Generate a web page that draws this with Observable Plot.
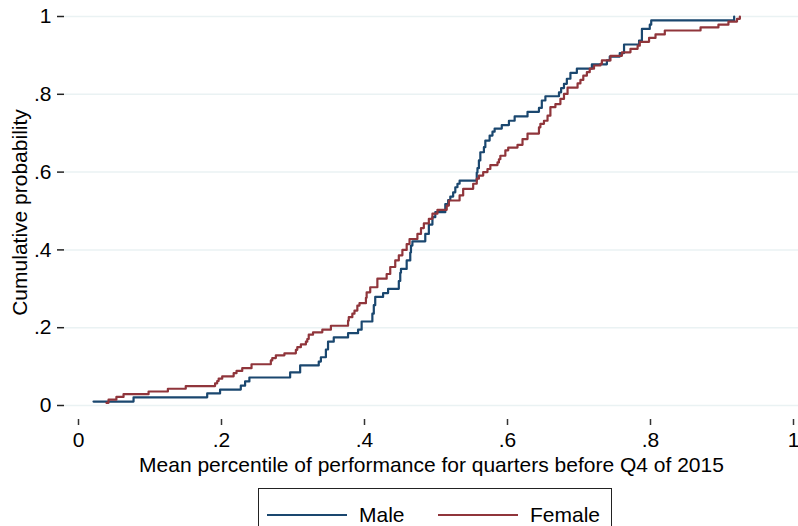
<!DOCTYPE html>
<html>
<head>
<meta charset="utf-8">
<script src="https://cdn.jsdelivr.net/npm/d3@7"></script>
<script src="https://cdn.jsdelivr.net/npm/@observablehq/plot@0.6"></script>
<style>
  html, body { margin: 0; padding: 0; background: #fff; }
  body { width: 798px; height: 526px; overflow: hidden; font-family: "Liberation Sans", Arial, Helvetica, sans-serif; }
  #legend { position: relative; margin-left: 258px; width: 354px; height: 50px; border: 1px solid #222; box-sizing: border-box; font-size: 21px; color: #000; }
  .item { position: absolute; top: 14px; display: flex; align-items: center; }
  .sw { display: inline-block; width: 80px; height: 0; border-top: 2px solid; margin-right: 12px; }
</style>
</head>
<body>
<div id="chart"></div>
<div id="legend"></div>
<script>
// Series names and colours
const seriesNames = ["Male", "Female"];
const seriesColors = ["#1a476f", "#90353b"];

// Male empirical CDF step points
const maleX = [0.021,0.077,0.180,0.198,0.227,0.233,0.239,0.296,0.310,0.336,0.339,0.346,0.349,0.357,0.377,0.391,0.396,0.411,0.413,0.415,0.426,0.433,0.448,0.450,0.451,0.459,0.464,0.465,0.467,0.485,0.490,0.495,0.499,0.513,0.517,0.520,0.524,0.527,0.530,0.533,0.557,0.558,0.560,0.562,0.567,0.569,0.575,0.579,0.582,0.592,0.602,0.610,0.628,0.644,0.648,0.653,0.672,0.675,0.679,0.683,0.688,0.697,0.718,0.739,0.743,0.757,0.763,0.784,0.788,0.799,0.801,0.917];
const maleY = [0.010,0.021,0.031,0.041,0.051,0.062,0.072,0.085,0.103,0.113,0.124,0.144,0.164,0.175,0.186,0.195,0.216,0.236,0.258,0.279,0.289,0.300,0.320,0.341,0.351,0.373,0.393,0.411,0.422,0.441,0.465,0.484,0.497,0.518,0.528,0.537,0.548,0.561,0.570,0.578,0.599,0.610,0.630,0.651,0.664,0.681,0.694,0.704,0.712,0.721,0.732,0.743,0.755,0.765,0.784,0.795,0.805,0.816,0.827,0.840,0.855,0.866,0.877,0.887,0.897,0.906,0.928,0.938,0.968,0.979,0.990,1.000];

// Female empirical CDF step points
const femaleX = [0.039,0.042,0.053,0.063,0.098,0.125,0.150,0.191,0.194,0.196,0.201,0.217,0.221,0.229,0.242,0.269,0.271,0.276,0.288,0.304,0.306,0.311,0.318,0.320,0.322,0.328,0.341,0.353,0.377,0.378,0.383,0.386,0.390,0.393,0.402,0.403,0.408,0.418,0.431,0.436,0.443,0.448,0.453,0.459,0.463,0.474,0.479,0.483,0.490,0.495,0.502,0.515,0.518,0.533,0.538,0.552,0.557,0.560,0.566,0.572,0.576,0.586,0.588,0.590,0.597,0.601,0.614,0.621,0.628,0.644,0.646,0.651,0.656,0.660,0.667,0.674,0.679,0.684,0.698,0.702,0.706,0.711,0.715,0.721,0.730,0.732,0.744,0.760,0.772,0.782,0.785,0.798,0.807,0.820,0.870,0.895,0.909,0.921,0.925];
const femaleY = [0.007,0.015,0.022,0.029,0.036,0.043,0.050,0.057,0.063,0.069,0.075,0.083,0.089,0.096,0.106,0.116,0.122,0.129,0.134,0.143,0.150,0.157,0.164,0.171,0.182,0.188,0.195,0.205,0.218,0.227,0.236,0.244,0.257,0.263,0.277,0.291,0.304,0.326,0.338,0.356,0.373,0.386,0.400,0.415,0.428,0.441,0.456,0.468,0.480,0.493,0.503,0.514,0.527,0.540,0.557,0.570,0.583,0.591,0.600,0.608,0.618,0.625,0.633,0.642,0.656,0.663,0.670,0.685,0.699,0.715,0.724,0.732,0.745,0.767,0.775,0.788,0.801,0.817,0.828,0.837,0.848,0.857,0.866,0.874,0.878,0.887,0.899,0.908,0.917,0.925,0.935,0.945,0.954,0.964,0.972,0.979,0.987,0.994,1.000];

// Tick values
const xTicks = [0, 0.2, 0.4, 0.6, 0.8, 1];
const yTicks = [0, 0.2, 0.4, 0.6, 0.8, 1];
const fmt = d => d === 0 ? "0" : d === 1 ? "1" : String(d).replace(/^0/, "");

const data = [
  ...maleX.map((x, i) => ({x, y: maleY[i], g: "Male"})),
  ...femaleX.map((x, i) => ({x, y: femaleY[i], g: "Female"}))
];

const chart = Plot.plot({
  width: 798,
  height: 488,
  marginTop: 5,
  marginBottom: 69,
  marginLeft: 64,
  marginRight: 0,
  style: {fontFamily: "'Liberation Sans', Arial, Helvetica, sans-serif", fontSize: "21px", color: "#000", background: "#fff"},
  x: {domain: [0, 1], insetLeft: 14, insetRight: 5},
  y: {domain: [0, 1], insetTop: 11, insetBottom: 14},
  color: {domain: seriesNames, range: seriesColors},
  marks: [
    Plot.gridY(yTicks, {stroke: "#eaf2f3", strokeOpacity: 1, strokeWidth: 1.5}),
    Plot.axisX(xTicks, {tickFormat: fmt, tickSize: 6, tickPadding: 7, stroke: "#333", strokeWidth: 1.5, line: true,
      label: "Mean percentile of performance for quarters before Q4 of 2015", labelAnchor: "center", labelArrow: false, labelOffset: 52}),
    Plot.axisY(yTicks, {tickFormat: fmt, tickSize: 7, tickPadding: 6, stroke: "#222", strokeWidth: 1.5, line: true,
      label: "Cumulative probability", labelAnchor: "center", labelArrow: false, labelOffset: 52}),
    Plot.line(data, {x: "x", y: "y", z: "g", stroke: "g", strokeWidth: 2.2, curve: "step-after"})
  ]
});
document.getElementById("chart").appendChild(chart);

// Legend
const lg = document.getElementById("legend");
const pos = [[8, "Male"], [179, "Female"]];
seriesNames.forEach((name, i) => {
  const it = document.createElement("div");
  it.className = "item";
  it.style.left = pos[i][0] + "px";
  const sw = document.createElement("span");
  sw.className = "sw";
  sw.style.borderTopColor = seriesColors[i];
  const tx = document.createElement("span");
  tx.textContent = name;
  it.appendChild(sw); it.appendChild(tx);
  lg.appendChild(it);
});
</script>
</body>
</html>
